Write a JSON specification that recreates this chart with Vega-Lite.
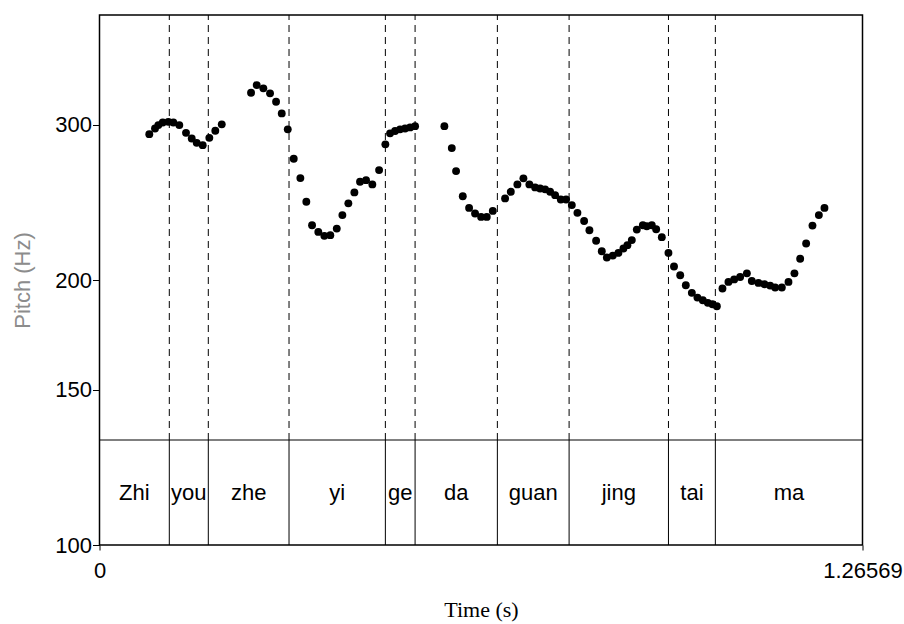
{
  "$schema": "https://vega.github.io/schema/vega-lite/v6.json",
  "width": 763,
  "height": 530,
  "autosize": "none",
  "padding": {"left": 99.5, "top": 15, "right": 41.5, "bottom": 79},
  "background": "white",
  "config": {
    "font": "Liberation Sans",
    "view": {"stroke": "black", "strokeWidth": 1.5},
    "axis": {
      "domain": false,
      "grid": false,
      "labelFont": "Liberation Sans",
      "labelFontSize": 22,
      "labelColor": "black",
      "tickColor": "black",
      "tickWidth": 1,
      "labelFlush": false,
      "labelOverlap": false,
      "titleFontWeight": "normal"
    }
  },
  "datasets": {
    "pitch": [
      {"time": 0.0826, "f0": 292.9}, {"time": 0.0921, "f0": 297.3}, {"time": 0.0976, "f0": 299.9},
      {"time": 0.1049, "f0": 302.0}, {"time": 0.1142, "f0": 302.5}, {"time": 0.1225, "f0": 302.0},
      {"time": 0.1324, "f0": 299.9}, {"time": 0.1435, "f0": 293.9}, {"time": 0.1530, "f0": 289.6},
      {"time": 0.1613, "f0": 286.3}, {"time": 0.1712, "f0": 284.6}, {"time": 0.1822, "f0": 290.1},
      {"time": 0.1921, "f0": 295.5}, {"time": 0.2028, "f0": 300.5},
      {"time": 0.2514, "f0": 326.4}, {"time": 0.2608, "f0": 333.0}, {"time": 0.2718, "f0": 330.2},
      {"time": 0.2829, "f0": 325.9}, {"time": 0.2929, "f0": 318.8}, {"time": 0.3023, "f0": 309.2},
      {"time": 0.3123, "f0": 296.6}, {"time": 0.3222, "f0": 274.6}, {"time": 0.3332, "f0": 261.1},
      {"time": 0.3431, "f0": 245.4}, {"time": 0.3526, "f0": 230.8}, {"time": 0.3630, "f0": 226.8},
      {"time": 0.3730, "f0": 224.5}, {"time": 0.3829, "f0": 224.9}, {"time": 0.3936, "f0": 228.8},
      {"time": 0.4029, "f0": 237.0}, {"time": 0.4128, "f0": 244.4}, {"time": 0.4228, "f0": 251.5},
      {"time": 0.4322, "f0": 258.6}, {"time": 0.4422, "f0": 259.7}, {"time": 0.4526, "f0": 256.8},
      {"time": 0.4638, "f0": 266.6}, {"time": 0.4742, "f0": 285.2}, {"time": 0.4820, "f0": 293.5},
      {"time": 0.4903, "f0": 295.3}, {"time": 0.4986, "f0": 296.6}, {"time": 0.5069, "f0": 297.3},
      {"time": 0.5152, "f0": 298.1}, {"time": 0.5235, "f0": 299.1},
      {"time": 0.5721, "f0": 299.1}, {"time": 0.5844, "f0": 282.4}, {"time": 0.5915, "f0": 265.9},
      {"time": 0.6026, "f0": 249.0}, {"time": 0.6131, "f0": 241.5}, {"time": 0.6230, "f0": 238.0},
      {"time": 0.6330, "f0": 235.9}, {"time": 0.6424, "f0": 235.9}, {"time": 0.6524, "f0": 239.6},
      {"time": 0.6728, "f0": 247.6}, {"time": 0.6823, "f0": 251.9}, {"time": 0.6932, "f0": 256.8},
      {"time": 0.7032, "f0": 260.9}, {"time": 0.7131, "f0": 256.8}, {"time": 0.7226, "f0": 254.8},
      {"time": 0.7309, "f0": 254.1}, {"time": 0.7392, "f0": 253.5}, {"time": 0.7475, "f0": 251.9},
      {"time": 0.7558, "f0": 249.7}, {"time": 0.7652, "f0": 246.9}, {"time": 0.7740, "f0": 246.9},
      {"time": 0.7835, "f0": 243.3}, {"time": 0.7928, "f0": 238.4}, {"time": 0.8039, "f0": 233.4},
      {"time": 0.8127, "f0": 227.8}, {"time": 0.8238, "f0": 221.6}, {"time": 0.8332, "f0": 215.6},
      {"time": 0.8416, "f0": 212.1}, {"time": 0.8515, "f0": 213.2}, {"time": 0.8608, "f0": 214.7},
      {"time": 0.8691, "f0": 217.2}, {"time": 0.8757, "f0": 219.1}, {"time": 0.8830, "f0": 222.0},
      {"time": 0.8913, "f0": 228.2}, {"time": 0.9013, "f0": 230.8}, {"time": 0.9079, "f0": 230.2},
      {"time": 0.9162, "f0": 230.8}, {"time": 0.9234, "f0": 228.4}, {"time": 0.9328, "f0": 223.7},
      {"time": 0.9438, "f0": 214.7}, {"time": 0.9530, "f0": 207.2}, {"time": 0.9633, "f0": 202.5},
      {"time": 0.9726, "f0": 197.3}, {"time": 0.9826, "f0": 193.4}, {"time": 0.9919, "f0": 191.0},
      {"time": 1.0008, "f0": 189.7}, {"time": 1.0091, "f0": 188.4}, {"time": 1.0168, "f0": 187.7},
      {"time": 1.0241, "f0": 186.7}, {"time": 1.0334, "f0": 195.6}, {"time": 1.0433, "f0": 199.0},
      {"time": 1.0528, "f0": 200.3}, {"time": 1.0627, "f0": 201.6}, {"time": 1.0739, "f0": 203.5},
      {"time": 1.0821, "f0": 199.5}, {"time": 1.0931, "f0": 198.5}, {"time": 1.1030, "f0": 197.8},
      {"time": 1.1125, "f0": 197.1}, {"time": 1.1208, "f0": 196.1}, {"time": 1.1319, "f0": 196.1},
      {"time": 1.1429, "f0": 199.0}, {"time": 1.1528, "f0": 203.5}, {"time": 1.1623, "f0": 211.4},
      {"time": 1.1722, "f0": 220.0}, {"time": 1.1827, "f0": 230.6}, {"time": 1.1933, "f0": 237.0},
      {"time": 1.2026, "f0": 241.5}
    ],
    "tier": [
      {"start": 0, "end": 0.1158, "syllable": "Zhi"},
      {"start": 0.1158, "end": 0.1805, "syllable": "you"},
      {"start": 0.1805, "end": 0.3144, "syllable": "zhe"},
      {"start": 0.3144, "end": 0.4742, "syllable": "yi"},
      {"start": 0.4742, "end": 0.5235, "syllable": "ge"},
      {"start": 0.5235, "end": 0.6600, "syllable": "da"},
      {"start": 0.6600, "end": 0.7790, "syllable": "guan"},
      {"start": 0.7790, "end": 0.9438, "syllable": "jing"},
      {"start": 0.9438, "end": 1.0216, "syllable": "tai"},
      {"start": 1.0216, "end": 1.26569, "syllable": "ma"}
    ]
  },
  "layer": [
    {
      "data": {"name": "pitch"},
      "mark": {"type": "circle", "size": 62, "color": "black", "opacity": 1},
      "encoding": {
        "x": {
          "field": "time",
          "type": "quantitative",
          "scale": {"domain": [0, 1.26569], "nice": false, "zero": false},
          "axis": {
            "values": [0, 1.26569],
            "format": ".6~g",
            "tickSize": 5,
            "labelPadding": 10,
            "title": "Time (s)",
            "titleFont": "Liberation Serif",
            "titleFontSize": 22,
            "titleColor": "black",
            "titlePadding": 18
          }
        },
        "y": {
          "field": "f0",
          "type": "quantitative",
          "scale": {"type": "log", "domain": [100, 400], "nice": false},
          "axis": {
            "values": [100, 150, 200, 300],
            "format": "d",
            "tickSize": 7,
            "labelPadding": 1,
            "title": "Pitch (Hz)",
            "titleFontSize": 22,
            "titleColor": "#8c8c8c",
            "titlePadding": 20
          }
        }
      }
    },
    {
      "data": {"name": "tier"},
      "transform": [{"filter": "datum.start > 0"}],
      "mark": {"type": "rule", "color": "black", "strokeWidth": 1, "strokeDash": [7, 5]},
      "encoding": {
        "x": {"field": "start", "type": "quantitative"},
        "y": {"datum": 0.1981, "type": "quantitative", "scale": {"domain": [0, 1], "nice": false}, "axis": null},
        "y2": {"datum": 1}
      }
    },
    {
      "data": {"name": "tier"},
      "transform": [{"filter": "datum.start > 0"}],
      "mark": {"type": "rule", "color": "black", "strokeWidth": 1},
      "encoding": {
        "x": {"field": "start", "type": "quantitative"},
        "y": {"datum": 0, "type": "quantitative", "scale": {"domain": [0, 1], "nice": false}, "axis": null},
        "y2": {"datum": 0.1981}
      }
    },
    {
      "data": {"values": [{"tier": "syllables"}]},
      "mark": {"type": "rule", "color": "black", "strokeWidth": 1},
      "encoding": {
        "y": {"datum": 0.1981, "type": "quantitative", "scale": {"domain": [0, 1], "nice": false}, "axis": null}
      }
    },
    {
      "data": {"name": "tier"},
      "transform": [{"calculate": "(datum.start + datum.end) / 2", "as": "mid"}],
      "mark": {"type": "text", "fontSize": 22, "font": "Liberation Sans", "color": "black", "align": "center", "baseline": "middle"},
      "encoding": {
        "x": {"field": "mid", "type": "quantitative"},
        "y": {"datum": 0.099, "type": "quantitative", "scale": {"domain": [0, 1], "nice": false}, "axis": null},
        "text": {"field": "syllable"}
      }
    }
  ],
  "resolve": {"scale": {"y": "independent"}}
}
